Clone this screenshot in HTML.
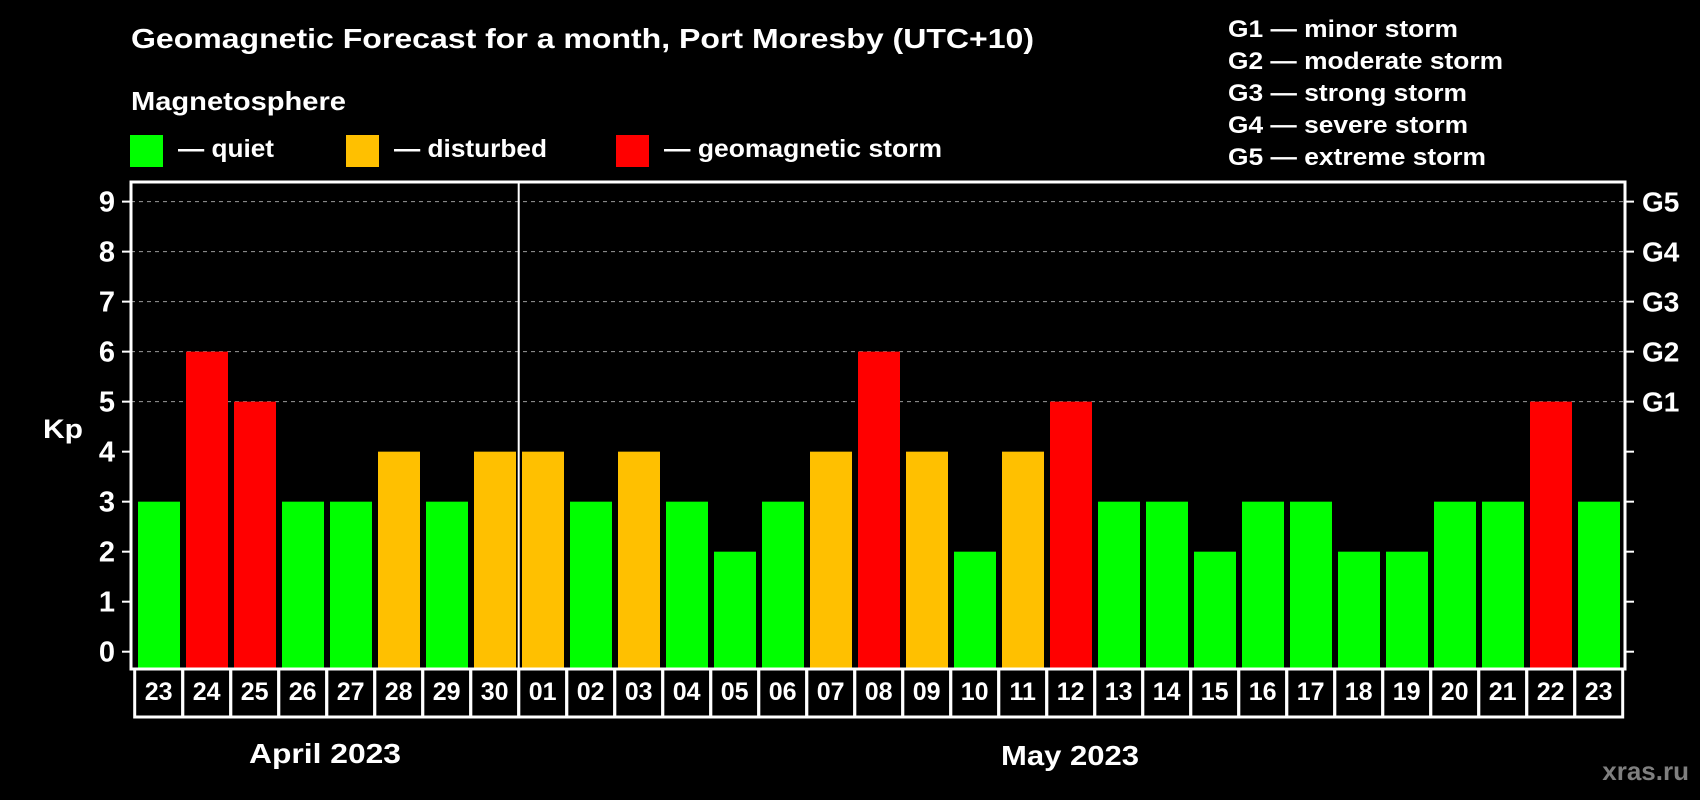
<!DOCTYPE html>
<html><head><meta charset="utf-8"><style>
html,body{margin:0;padding:0;background:#000;}
svg{display:block;font-family:"Liberation Sans",Arial,sans-serif;font-weight:bold;}
</style></head><body>
<svg id="chart" width="1700" height="800" viewBox="0 0 1700 800">
<rect x="0" y="0" width="1700" height="800" fill="#000"/>
<text x="131" y="48" font-size="28" fill="#fff" textLength="903" lengthAdjust="spacingAndGlyphs">Geomagnetic Forecast for a month, Port Moresby (UTC+10)</text>
<text x="131" y="110" font-size="26" fill="#fff" textLength="215" lengthAdjust="spacingAndGlyphs">Magnetosphere</text>
<g>
<rect x="130" y="135" width="33" height="32" fill="#00ff00"/>
<text x="178" y="157" font-size="25" fill="#fff" textLength="96" lengthAdjust="spacingAndGlyphs">— quiet</text>
</g>
<g>
<rect x="346" y="135" width="33" height="32" fill="#ffc000"/>
<text x="394" y="157" font-size="25" fill="#fff" textLength="153" lengthAdjust="spacingAndGlyphs">— disturbed</text>
</g>
<g>
<rect x="616" y="135" width="33" height="32" fill="#ff0000"/>
<text x="664" y="157" font-size="25" fill="#fff" textLength="278" lengthAdjust="spacingAndGlyphs">— geomagnetic storm</text>
</g>
<g font-size="24" fill="#fff">
<text x="1228" y="37" textLength="230" lengthAdjust="spacingAndGlyphs">G1 — minor storm</text>
<text x="1228" y="69" textLength="275" lengthAdjust="spacingAndGlyphs">G2 — moderate storm</text>
<text x="1228" y="101" textLength="239" lengthAdjust="spacingAndGlyphs">G3 — strong storm</text>
<text x="1228" y="133" textLength="240" lengthAdjust="spacingAndGlyphs">G4 — severe storm</text>
<text x="1228" y="165" textLength="258" lengthAdjust="spacingAndGlyphs">G5 — extreme storm</text>
</g>
<text x="43" y="438" font-size="27" fill="#fff" textLength="40" lengthAdjust="spacingAndGlyphs">Kp</text>
<g id="grid"></g>
<g id="bars"></g>
<g id="axes"></g>
<text x="325" y="763" font-size="28" fill="#fff" text-anchor="middle" textLength="152" lengthAdjust="spacingAndGlyphs">April 2023</text>
<text x="1070" y="765" font-size="28" fill="#fff" text-anchor="middle" textLength="138" lengthAdjust="spacingAndGlyphs">May 2023</text>
<text x="1689" y="780" font-size="26" fill="#7f7f7f" text-anchor="end">xras.ru</text>
</svg>
<script>
const days = ["23","24","25","26","27","28","29","30","01","02","03","04","05","06","07","08","09","10","11","12","13","14","15","16","17","18","19","20","21","22","23"];
const kpValues = [3,6,5,3,3,4,3,4,4,3,4,3,2,3,4,6,4,2,4,5,3,3,2,3,3,2,2,3,3,5,3];
const yTicks = [0,1,2,3,4,5,6,7,8,9];
const gLabels = ["G1","G2","G3","G4","G5"];
const gLevels = [5,6,7,8,9];
const monthSplitIndex = 8;

const NS = "http://www.w3.org/2000/svg";
const plotL = 131, plotR = 1625, plotT = 182, plotB = 669;
const cellL = 134.7, cellW = 48, cellB = 717;
function yScale(v){ return 651.7 - v * 50.01; }
function xScale(i){ return cellL + i * cellW; }
function mk(tag, attrs, parent){
  const e = document.createElementNS(NS, tag);
  for (const k in attrs) e.setAttribute(k, attrs[k]);
  parent.appendChild(e);
  return e;
}
const grid = document.getElementById("grid");
const bars = document.getElementById("bars");
const axes = document.getElementById("axes");
function color(v){ return v >= 5 ? "#ff0000" : (v >= 4 ? "#ffc000" : "#00ff00"); }

gLevels.forEach((lv, i) => {
  const l = mk("line", {x1: plotL, x2: plotR, y1: yScale(lv), y2: yScale(lv), stroke: "#9a9a9a", "stroke-width": 1, "stroke-dasharray": "4 4"}, grid);
  
  
  const t = mk("text", {x: 1642, y: yScale(lv) + 10, "font-size": 28, fill: "#fff"}, axes);
  t.textContent = gLabels[i];
  
  
});

kpValues.forEach((v, i) => {
  const x = xScale(i) + 3.3;
  const r = mk("rect", {x: x, y: yScale(v), width: 42, height: plotB - yScale(v), fill: color(v)}, bars);
  
  
  const c = mk("rect", {x: xScale(i), y: plotB, width: cellW, height: cellB - plotB, fill: "none", stroke: "#fff", "stroke-width": 3}, axes);
  
  
  const t = mk("text", {x: xScale(i) + cellW / 2, y: 700, "font-size": 25, fill: "#fff", "text-anchor": "middle"}, axes);
  t.textContent = days[i];
  
  
});

const frame = mk("rect", {x: plotL, y: plotT, width: plotR - plotL, height: plotB - plotT, fill: "none", stroke: "#fff", "stroke-width": 3}, axes);


const div = mk("line", {x1: xScale(monthSplitIndex), x2: xScale(monthSplitIndex), y1: plotT, y2: plotB, stroke: "#fff", "stroke-width": 2}, axes);



yTicks.forEach(v => {
  const y = yScale(v);
  const tl = mk("line", {x1: 122, x2: plotL, y1: y, y2: y, stroke: "#fff", "stroke-width": 2}, axes);
  
  
  const tr = mk("line", {x1: plotR, x2: 1634, y1: y, y2: y, stroke: "#fff", "stroke-width": 2}, axes);
  
  
  const t = mk("text", {x: 115, y: y + 10, "font-size": 29, fill: "#fff", "text-anchor": "end"}, axes);
  t.textContent = String(v);
  
  
});
</script>
</body></html>
